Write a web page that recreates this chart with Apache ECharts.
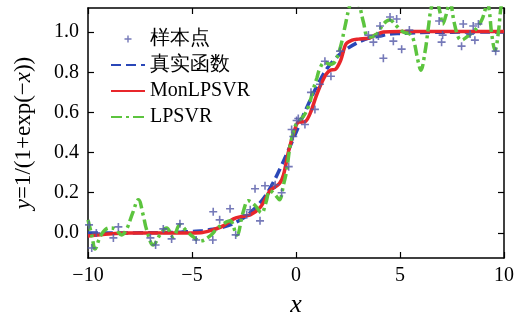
<!DOCTYPE html>
<html>
<head>
<meta charset="utf-8">
<script src="https://cdn.jsdelivr.net/npm/echarts@6/dist/echarts.min.js"></script>
<style>
  html, body { margin: 0; padding: 0; background: #fff; }
  #chart { width: 518px; height: 320px; }
</style>
</head>
<body>
<div id="chart"></div>
<script>
// sample points
const sampleX = [-9.95, -9.82, -9.6, -8.78, -8.54, -7.0, -6.75, -6.38, -5.98, -5.58,
  -4.8, -4.0, -3.98, -3.67, -3.17, -2.9, -2.37, -2.2, -1.97, -1.73,
  -1.49, -1.0, -0.69, -0.35, -0.21, -0.13, 0.03, 0.11, 0.43, 0.72,
  0.91, 1.15, 1.39, 1.68, 2.12, 3.48, 3.72, 3.96, 4.04, 4.2,
  4.52, 4.68, 4.84, 5.08, 5.45, 6.88, 7.05, 7.0, 7.96, 8.04,
  8.37, 8.52, 8.6, 8.77, 9.6];
const sampleY = [0.04, -0.075, 0.0, -0.025, 0.03, -0.025, -0.06, 0.02, -0.03, 0.045,
  -0.035, -0.035, 0.105, 0.065, 0.12, -0.01, 0.09, 0.115, 0.22, 0.06,
  0.235, 0.24, 0.2, 0.33, 0.515, 0.48, 0.56, 0.57, 0.54, 0.70,
  0.615, 0.74, 0.855, 0.78, 0.905, 0.985, 0.95, 0.98, 1.03, 0.87,
  1.075, 0.955, 1.065, 0.915, 1.01, 1.055, 0.985, 0.95, 0.93, 1.04,
  0.99, 1.03, 0.96, 1.04, 0.905];

// 真实函数
const trueX = [-10, -9, -8, -7, -6, -5.5, -5, -4.5, -4, -3.5, -3, -2.5, -2, -1.5, -1, -0.5,
  0, 0.5, 1, 1.5, 2, 2.5, 3, 3.5, 4, 4.5, 5, 6, 7, 8, 9, 10];
const trueY = [0, 0, 0, 0.001, 0.002, 0.004, 0.007, 0.011, 0.018, 0.029, 0.047, 0.076, 0.12, 0.18, 0.27, 0.38,
  0.5, 0.62, 0.73, 0.82, 0.88, 0.92, 0.95, 0.97, 0.98, 0.99, 0.993, 0.998, 0.999, 1.0, 1.0, 1.0];

// MonLPSVR
const monX = [-10, -9, -8, -7, -6, -5, -4.5, -4, -3.5, -3, -2.7, -2.2, -1.7, -1.25, -0.8, -0.6,
  -0.35, -0.1, 0.1, 0.45, 0.7, 0.95, 1.2, 1.45, 1.65, 1.9, 2.15, 2.4, 2.7, 3.0, 3.5, 3.8, 4.2,
  5, 6, 7, 8, 9, 10];
const monY = [-0.015, -0.005, 0, 0, 0, 0, 0.002, 0.015, 0.035, 0.07, 0.08, 0.09, 0.13, 0.21, 0.245, 0.29,
  0.41, 0.5, 0.55, 0.555, 0.6, 0.675, 0.74, 0.79, 0.81, 0.815, 0.86, 0.94, 0.96, 0.965, 0.97, 0.985, 1.0,
  1.003, 1.003, 1.003, 1.003, 1.003, 1.003];

// LPSVR
const lpX = [-10, -9.8, -9.66, -9.42, -9.18, -8.94, -8.7, -8.38, -8.14, -7.85, -7.58, -7.35, -7.18, -6.86,
  -6.54, -6.22, -5.9, -5.58, -5.26, -4.94, -4.6, -4.13, -3.81, -3.5, -3.17, -2.85, -2.55, -2.29, -2.0,
  -1.65, -1.45, -1.25, -1.0, -0.8, -0.6, -0.45, -0.29, -0.13, 0.05, 0.35, 0.6, 0.83, 1.0, 1.15, 1.39,
  1.63, 1.85, 2.12, 2.36, 2.55, 2.8, 3.08, 3.24, 3.48, 3.88, 4.2, 4.5, 4.84, 5.16, 5.48, 5.64, 5.88,
  6.0, 6.2, 6.36, 6.5, 6.7, 6.92, 7.05, 7.2, 7.4, 7.6, 7.8, 7.95, 8.2, 8.5, 8.69, 8.93, 9.09, 9.2,
  9.3, 9.41, 9.57, 9.73, 9.85, 10];
const lpY = [0.065, -0.02, -0.08, -0.02, 0.015, 0.025, 0.02, -0.01, 0.02, 0.1, 0.165, 0.09, 0.015, -0.06,
  -0.01, 0.025, -0.02, 0.04, 0.01, -0.02, -0.04, -0.015, 0.02, 0.045, 0.06, -0.01, 0.1, 0.16, 0.14,
  0.1, 0.15, 0.21, 0.19, 0.165, 0.24, 0.31, 0.43, 0.5, 0.55, 0.58, 0.63, 0.715, 0.77, 0.82, 0.85,
  0.84, 0.85, 0.92, 1.03, 1.12, 1.2, 1.12, 1.05, 0.975, 0.99, 1.04, 1.06, 1.03, 1.0, 0.99, 0.965, 0.85,
  0.81, 0.9, 1.02, 1.12, 1.18, 1.1, 1.04, 1.08, 1.15, 1.05, 0.975, 0.96, 0.975, 1.0, 1.02, 1.06, 1.11, 1.15,
  1.1, 0.99, 0.91, 1.0, 1.12, 1.2];

const yTicks = [0, 0.2, 0.4, 0.6, 0.8, 1.0];
const xTicks = [-10, -5, 0, 5, 10];

const zip = (xs, ys) => xs.map((x, i) => [x, ys[i]]);
const plusIcon = 'path://M4,0H6V4H10V6H6V10H4V6H0V4H4Z';
// same plus, padded with empty moves so the legend draws it small
const plusLegend = 'path://M-5,-5M15,15M4,0H6V4H10V6H6V10H4V6H0V4H4Z';

const chart = echarts.init(document.getElementById('chart'), null, {renderer: 'canvas'});

const tickStyle = {show: true, inside: true, length: 6, lineStyle: {color: '#000', width: 1.2}};
const lineStyle = {color: '#000', width: 1.5};
const noDot = {opacity: 0};
// legend entries take their own text style too, the legend-level one was ignored
const legendText = {fontFamily: 'Liberation Serif', fontSize: 20, color: '#000'};

const option = {
  animation: false,
  backgroundColor: '#fff',
  textStyle: {fontFamily: 'Liberation Serif', color: '#000'},
  // v6 squeezes the grid to keep names inside; keep the box where it is
  grid: {left: 88, right: 14, top: 8, bottom: 62, containLabel: false, outerBoundsMode: 'none'},
  legend: {
    orient: 'vertical',
    left: 105,
    top: 24,
    itemWidth: 34,
    itemHeight: 14,
    itemGap: 6,
    textStyle: legendText,
    data: [
      {name: '样本点', icon: plusLegend, textStyle: legendText},
      {name: '真实函数', itemStyle: noDot, textStyle: legendText},
      {name: 'MonLPSVR', itemStyle: noDot, textStyle: legendText},
      {name: 'LPSVR', itemStyle: noDot, textStyle: legendText}
    ]
  },
  xAxis: [
    {
      type: 'value', min: -10, max: 10, interval: 5,
      name: 'x', nameLocation: 'middle', nameGap: 34,
      nameTextStyle: {fontFamily: 'Liberation Serif', fontSize: 26, fontStyle: 'italic', color: '#000'},
      axisLine: {show: true, onZero: false, lineStyle},
      axisTick: {...tickStyle, customValues: xTicks},
      axisLabel: {
        customValues: xTicks,
        margin: 8, fontFamily: 'Liberation Serif', fontSize: 20, color: '#000',
        formatter: v => String(v).replace('-', '\u2212')
      },
      splitLine: {show: false}
    },
    {
      type: 'value', min: -10, max: 10, interval: 5, position: 'top',
      axisLine: {show: true, onZero: false, lineStyle},
      axisTick: {...tickStyle, customValues: xTicks},
      axisLabel: {show: false},
      splitLine: {show: false}
    }
  ],
  yAxis: [
    {
      type: 'value', min: -0.125, max: 1.12,
      name: '{i|y}=1/(1+exp(\u2212{i|x}))', nameLocation: 'middle', nameGap: 53, nameRotate: 90,
      nameTextStyle: {
        fontFamily: 'Liberation Serif', fontSize: 23, color: '#000',
        rich: {i: {fontFamily: 'Liberation Serif', fontSize: 23, fontStyle: 'italic', color: '#000'}}
      },
      axisLine: {show: true, onZero: false, lineStyle},
      axisTick: {...tickStyle, customValues: yTicks},
      axisLabel: {
        customValues: yTicks,
        margin: 9, fontFamily: 'Liberation Serif', fontSize: 20, color: '#000',
        formatter: v => v.toFixed(1)
      },
      splitLine: {show: false}
    },
    {
      type: 'value', min: -0.125, max: 1.12, position: 'right',
      axisLine: {show: true, onZero: false, lineStyle},
      axisTick: {...tickStyle, customValues: yTicks},
      axisLabel: {show: false},
      splitLine: {show: false}
    }
  ],
  series: [
    {
      name: '真实函数', type: 'line', data: zip(trueX, trueY),
      symbol: 'none', smooth: 0.3, z: 2,
      lineStyle: {color: '#2a47b8', width: 3.5, type: [10, 5]},
      itemStyle: {color: '#2a47b8'}
    },
    {
      name: 'MonLPSVR', type: 'line', data: zip(monX, monY),
      symbol: 'none', smooth: 0.3, z: 3,
      lineStyle: {color: '#e8262b', width: 3.5},
      itemStyle: {color: '#e8262b'}
    },
    {
      name: 'LPSVR', type: 'line', data: zip(lpX, lpY),
      symbol: 'none', smooth: 0.4, z: 4,
      lineStyle: {color: '#5cc43e', width: 3.5, type: [11, 4, 3, 4]},
      itemStyle: {color: '#5cc43e'}
    },
    {
      name: '样本点', type: 'scatter', data: zip(sampleX, sampleY),
      symbol: plusIcon, symbolSize: 8, z: 5,
      itemStyle: {color: '#5358a6'}
    }
  ]
};

chart.setOption(option);
</script>
</body>
</html>
